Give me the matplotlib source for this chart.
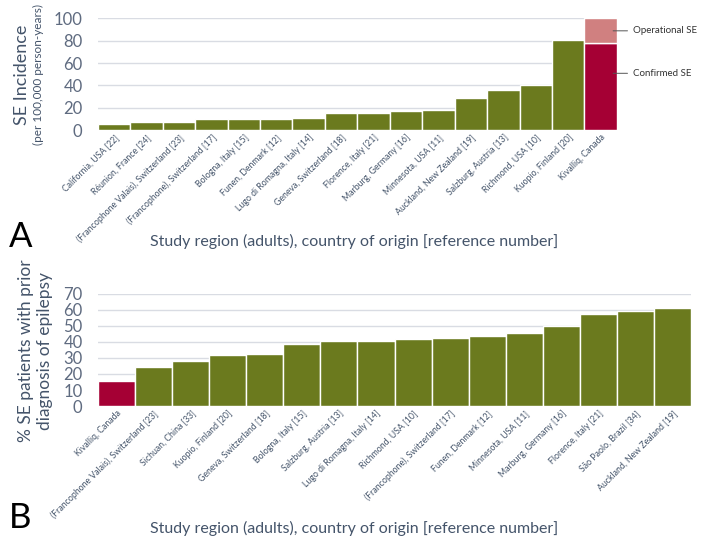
import matplotlib
matplotlib.use('Agg')
import matplotlib.pyplot as plt
import numpy as np

plt.rcParams['font.family'] = ['Lato', 'DejaVu Sans']

# panel A: SE incidence per 100,000 person-years
regions_a = ['California, USA [22]', 'Réunion, France [24]', '(Francophone Valais), Switzerland [23]',
             '(Francophone), Switzerland [17]', 'Bologna, Italy [15]', 'Funen, Denmark [12]',
             'Lugo di Romagna, Italy [14]', 'Geneva, Switzerland [18]', 'Florence, Italy [21]',
             'Marburg, Germany [16]', 'Minnesota, USA [11]', 'Auckland, New Zealand [19]',
             'Salzburg, Austria [13]', 'Richmond, USA [10]', 'Kuopio, Finland [20]', 'Kivalliq, Canada']
incidence = [5.6, 7.7, 7.7, 9.8, 9.8, 10.4, 11.3, 14.9, 15.6, 16.7, 18.1, 28.6, 35.7, 40.5, 81.0, 77.7]
operational_extra = 22.3  # Kivalliq operational SE on top of confirmed

# panel B: % SE patients with prior epilepsy diagnosis
regions_b = ['Kivalliq, Canada', '(Francophone Valais), Switzerland [23]', 'Sichuan, China [33]',
             'Kuopio, Finland [20]', 'Geneva, Switzerland [18]', 'Bologna, Italy [15]',
             'Salzburg, Austria [13]', 'Lugo di Romagna, Italy [14]', 'Richmond, USA [10]',
             '(Francophone), Switzerland [17]', 'Funen, Denmark [12]', 'Minnesota, USA [11]',
             'Marburg, Germany [16]', 'Florence, Italy [21]', 'São Paolo, Brazil [34]',
             'Auckland, New Zealand [19]']
prior_epilepsy = [15.6, 24.1, 27.8, 31.6, 32.4, 38.8, 40.5, 40.5, 41.7, 42.2, 43.8, 45.7, 49.6, 57.5, 59.2, 60.9]

green = '#6b7a1e'
red = '#a50034'
pink = '#d08080'
txt = '#44546a'
grid = '#d9dce3'

fig = plt.figure(figsize=(7.09, 5.40), dpi=100)

def style(ax, ymax, step):
    ax.set_ylim(0, ymax)
    ax.set_yticks(np.arange(0, ymax + 1, step))
    for s in ax.spines.values():
        s.set_visible(False)
    ax.yaxis.grid(True, color=grid, lw=1)
    ax.set_axisbelow(True)
    ax.tick_params(axis='y', length=0, labelsize=12, labelcolor='#5f6b80', pad=11)
    ax.tick_params(axis='x', length=0, labelsize=6.3, labelcolor=txt, pad=2)

# ---- A ----
ax1 = fig.add_axes([0.138, 0.759, 0.732, 0.207])
x1 = np.arange(len(regions_a))
cols = [green] * (len(regions_a) - 1) + [red]
ax1.bar(x1, incidence, width=1.0, color=cols, edgecolor='white', linewidth=1)
ax1.bar(x1[-1], operational_extra, bottom=incidence[-1], width=1.0, color=pink, edgecolor='white', linewidth=1)
ax1.set_xlim(-0.5, len(regions_a) - 0.5)
style(ax1, 100, 20)
ax1.set_xticks(x1)
ax1.set_xticklabels(regions_a, rotation=45, ha='right', rotation_mode='anchor')
fig.text(0.031, 0.862, 'SE Incidence', rotation=90, ha='center', va='center', fontsize=13, color=txt)
fig.text(0.054, 0.862, '(per 100,000 person-years)', rotation=90, ha='center', va='center',
         fontsize=8.5, color=txt)
ax1.annotate('Operational SE', xy=(x1[-1] + 0.3, incidence[-1] + operational_extra / 2),
             xytext=(x1[-1] + 1.0, incidence[-1] + operational_extra / 2), fontsize=7, color='#333333',
             va='center', arrowprops=dict(arrowstyle='-', color='#555555', lw=0.7), annotation_clip=False)
ax1.annotate('Confirmed SE', xy=(x1[-1] + 0.3, incidence[-1] / 2 + 12),
             xytext=(x1[-1] + 1.0, incidence[-1] / 2 + 12), fontsize=7, color='#333333',
             va='center', arrowprops=dict(arrowstyle='-', color='#555555', lw=0.7), annotation_clip=False)
fig.text(0.5, 0.553, 'Study region (adults), country of origin [reference number]', ha='center',
         va='center', fontsize=11.5, color=txt)
fig.text(0.012, 0.562, 'A', fontsize=25, color='black', va='center')

# ---- B ----
ax2 = fig.add_axes([0.138, 0.248, 0.837, 0.208])
x2 = np.arange(len(regions_b))
cols2 = [red] + [green] * (len(regions_b) - 1)
ax2.bar(x2, prior_epilepsy, width=1.0, color=cols2, edgecolor='white', linewidth=1)
ax2.set_xlim(-0.5, len(regions_b) - 0.5)
style(ax2, 70, 10)
ax2.set_xticks(x2)
ax2.set_xticklabels(regions_b, rotation=45, ha='right', rotation_mode='anchor')
fig.text(0.050, 0.35, '% SE patients with prior\ndiagnosis of epilepsy', rotation=90,
         ha='center', va='center', fontsize=12.5, color=txt, linespacing=1.25)
fig.text(0.5, 0.022, 'Study region (adults), country of origin [reference number]', ha='center',
         va='center', fontsize=11.5, color=txt)
fig.text(0.012, 0.04, 'B', fontsize=25, color='black', va='center')

fig.savefig('out.png', dpi=100, facecolor='white')
